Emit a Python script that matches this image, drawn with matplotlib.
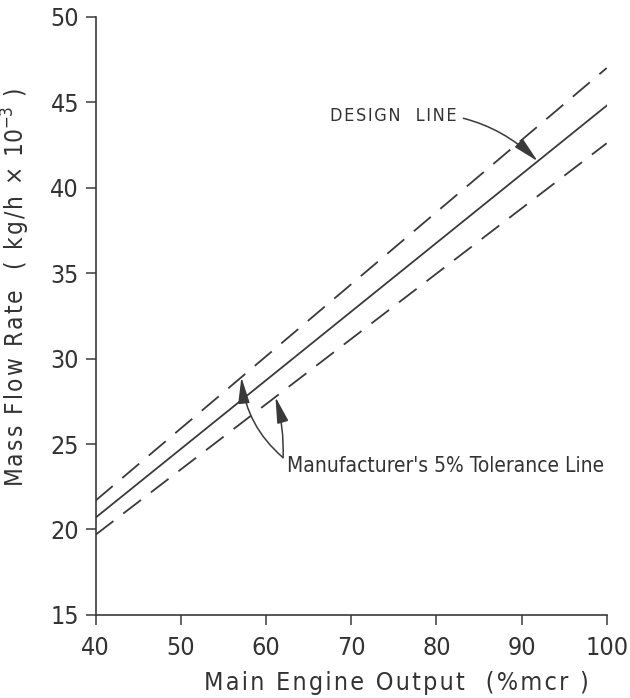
import matplotlib
matplotlib.use("Agg")
import matplotlib.pyplot as plt

# Data
x_vals = [40, 100]
design = [20.7, 44.8]
upper_tol = [21.7, 47.0]
lower_tol = [19.7, 42.6]
x_ticks = [40, 50, 60, 70, 80, 90, 100]
y_ticks = [15, 20, 25, 30, 35, 40, 45, 50]

plt.rcParams['font.family'] = ['DejaVu Sans']
plt.rcParams['font.stretch'] = 'condensed'
plt.rcParams['lines.scale_dashes'] = False
col = '#3a3a3a'
tcol = '#333333'

HS = '\u200a'
def spaced(s):
    return HS.join(s)

fig = plt.figure(figsize=(6.3, 6.98), dpi=100)
ax = fig.add_axes([0.152, 0.119, 0.811, 0.857])

ax.plot(x_vals, design, color=col, lw=1.3)
ax.plot(x_vals, upper_tol, color=col, lw=1.3, dashes=(16, 9))
ax.plot(x_vals, lower_tol, color=col, lw=1.3, dashes=(16, 9))

ax.set_xlim(40, 100)
ax.set_ylim(15, 50)
ax.set_xticks(x_ticks)
ax.set_yticks(y_ticks)
for s in ['top', 'right']:
    ax.spines[s].set_visible(False)
for s in ['left', 'bottom']:
    ax.spines[s].set_color(col)
    ax.spines[s].set_linewidth(1.2)
ax.tick_params(axis='both', direction='out', length=7, width=1.1, colors=col,
               labelsize=18, labelcolor=tcol)
ax.tick_params(axis='x', pad=8)
ax.tick_params(axis='y', pad=5)

ax.set_xlabel(spaced('Main Engine Output  (%mcr )'), fontsize=18, color=tcol)
ax.xaxis.set_label_coords(0.589, -0.094)
ax.set_ylabel(spaced('Mass Flow Rate  ( kg/h × ') + r'10$^{-3}$' + spaced(' )'),
              fontsize=17.5, color=tcol)
ax.yaxis.set_label_coords(-0.125, 0.547)

def yline(xv, ys):
    return ys[0] + (ys[1] - ys[0]) * (xv - x_vals[0]) / (x_vals[1] - x_vals[0])

aprops = dict(arrowstyle='-|>,head_length=1.0,head_width=0.22', color=col, lw=1.1,
              mutation_scale=16, shrinkA=0, shrinkB=0)

ax.annotate(spaced('DESIGN  LINE'), xy=(91.9, yline(91.9, design)), xytext=(67.5, 44.2),
            fontsize=13, color=tcol, va='center', ha='left',
            arrowprops=dict(aprops, connectionstyle='arc3,rad=-0.25', shrinkA=3))

ax.text(62.4, 23.7, "Manufacturer's 5% Tolerance Line", fontsize=15,
        color=tcol, va='center', ha='left')
ax.annotate('', xy=(57.1, yline(57.1, upper_tol)), xytext=(62.0, 24.2),
            arrowprops=dict(aprops, connectionstyle='arc3,rad=-0.2'))
ax.annotate('', xy=(61.1, yline(61.1, lower_tol)), xytext=(62.0, 24.2),
            arrowprops=dict(aprops, connectionstyle='arc3,rad=0.08'))

fig.savefig('out.png', dpi=100)
